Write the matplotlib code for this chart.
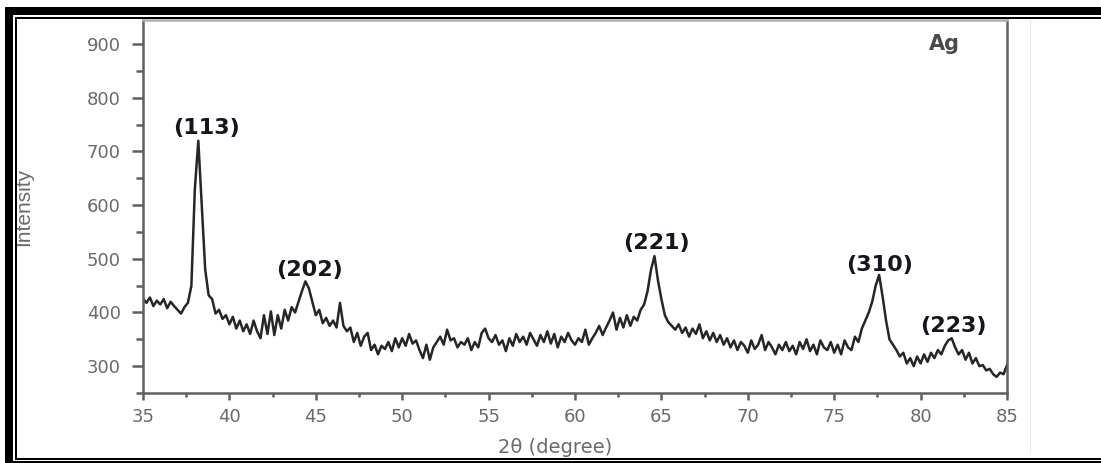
import numpy as np
import matplotlib
matplotlib.use("Agg")
import matplotlib.pyplot as plt
from matplotlib.patches import Rectangle
from matplotlib.ticker import MultipleLocator

# scan grid, 0.2 degree steps from 35 to 85
two_theta = np.round(np.arange(35.0, 85.01, 0.2), 1)

# intensity, one row per 5 degrees
intensity = [
    # 35.0 - 39.8
    425, 418, 428, 412, 422, 415, 425, 408, 420, 412, 405, 398, 410, 418, 450,
    630, 720, 600, 480, 432, 425, 398, 405, 388, 395,
    # 40.0 - 44.8
    378, 392, 370, 385, 365, 378, 360, 385, 365, 352, 395, 360, 402, 358, 395,
    370, 405, 385, 410, 400, 420, 440, 458, 445, 420,
    # 45.0 - 49.8
    395, 405, 380, 390, 375, 385, 372, 418, 375, 365, 372, 345, 362, 338, 355,
    362, 330, 340, 322, 338, 332, 345, 328, 352, 335,
    # 50.0 - 54.8
    352, 338, 360, 342, 348, 330, 315, 340, 312, 335, 345, 355, 340, 368, 348,
    352, 335, 345, 340, 352, 330, 345, 335, 362, 370,
    # 55.0 - 59.8
    352, 345, 358, 340, 348, 328, 352, 338, 360, 345, 355, 340, 362, 350, 338,
    358, 345, 365, 342, 360, 335, 355, 345, 362, 348,
    # 60.0 - 64.8
    340, 352, 345, 368, 340, 352, 362, 375, 358, 372, 385, 400, 368, 390, 372,
    395, 375, 392, 385, 405, 415, 440, 480, 505, 460,
    # 65.0 - 69.8
    425, 395, 382, 375, 368, 378, 362, 372, 355, 370, 360, 378, 352, 365, 348,
    362, 345, 358, 340, 352, 335, 348, 330, 345, 338,
    # 70.0 - 74.8
    325, 348, 332, 340, 358, 330, 345, 335, 322, 340, 330, 345, 328, 338, 322,
    345, 332, 350, 328, 340, 322, 348, 335, 330, 345,
    # 75.0 - 79.8
    325, 340, 322, 348, 335, 330, 355, 345, 370, 385, 400, 420, 450, 470, 430,
    385, 350, 340, 330, 318, 325, 305, 315, 300, 318,
    # 80.0 - 85.0
    305, 322, 308, 325, 315, 330, 322, 338, 348, 352, 335, 322, 330, 312, 325,
    305, 315, 300, 302, 292, 295, 285, 280, 288, 285, 302,
]

peak_labels = ['(113)', '(202)', '(221)', '(310)', '(223)']
peak_x = [38.65, 44.66, 64.69, 77.65, 81.9]
peak_y = [744, 480, 530, 489, 375]

W, H = 1101, 463
fig = plt.figure(figsize=(W / 100, H / 100), dpi=100)
ax = fig.add_axes([143 / W, (H - 393) / H, (1007 - 143) / W, (393 - 20) / H])

ax.plot(two_theta, intensity, color='#262626', lw=1.8)

ax.set_xlim(35, 85)
ax.set_ylim(250, 945)
ax.xaxis.set_major_locator(MultipleLocator(5))
ax.xaxis.set_minor_locator(MultipleLocator(2.5))
ax.yaxis.set_major_locator(MultipleLocator(100))
ax.yaxis.set_minor_locator(MultipleLocator(50))
ax.set_yticks(range(300, 901, 100))

grey = '#606060'
for s in ax.spines.values():
    s.set_color(grey)
    s.set_linewidth(1.8)
ax.spines['top'].set_color('#b0b0b0')
ax.tick_params(axis='both', which='major', colors=grey, labelcolor='#6a6a6a',
               labelsize=13, width=1.8)
ax.tick_params(axis='y', which='major', length=8, pad=8)
ax.tick_params(axis='y', which='minor', length=5, width=1.8, colors=grey)
ax.tick_params(axis='x', which='major', length=5, pad=6)
ax.tick_params(axis='x', which='minor', length=3, width=1.8, colors=grey)

ax.set_xlabel('2θ (degree)', fontsize=14, color='#6a6a6a', labelpad=4)
ax.xaxis.set_label_coords(0.477, -0.12)
ax.set_ylabel('Intensity', fontsize=15, color='#6a6a6a',
              family=['Liberation Sans Narrow', 'Liberation Sans', 'DejaVu Sans'])
ax.yaxis.set_label_coords(-0.127, 0.5)

for lab, px, py in zip(peak_labels, peak_x, peak_y):
    ax.text(px, py, lab, ha='center', va='center', fontsize=16,
            fontweight='bold', color='#15151f')
ax.text(81.4, 901, 'Ag', ha='center', va='center', fontsize=15,
        fontweight='bold', color='#4a4a4a')


# page border: thick outer band plus a thin inner line
def px_rect(x0, y0, x1, y1, c='black'):
    fig.add_artist(Rectangle((x0 / W, 1 - y1 / H), (x1 - x0) / W, (y1 - y0) / H,
                             transform=fig.transFigure, color=c, lw=0))


px_rect(5, 7, W, 15)       # top thick
px_rect(15, 17, W, 19)     # top thin
px_rect(5, 7, 13, 463)     # left thick
px_rect(15, 17, 17, 460)   # left thin
px_rect(15, 458, W, 460)   # bottom thin
px_rect(13, 461, W, 463)   # bottom outer
px_rect(1030, 20, 1031, 453, c='#e6e6e6')

fig.savefig('out.png', dpi=100)
